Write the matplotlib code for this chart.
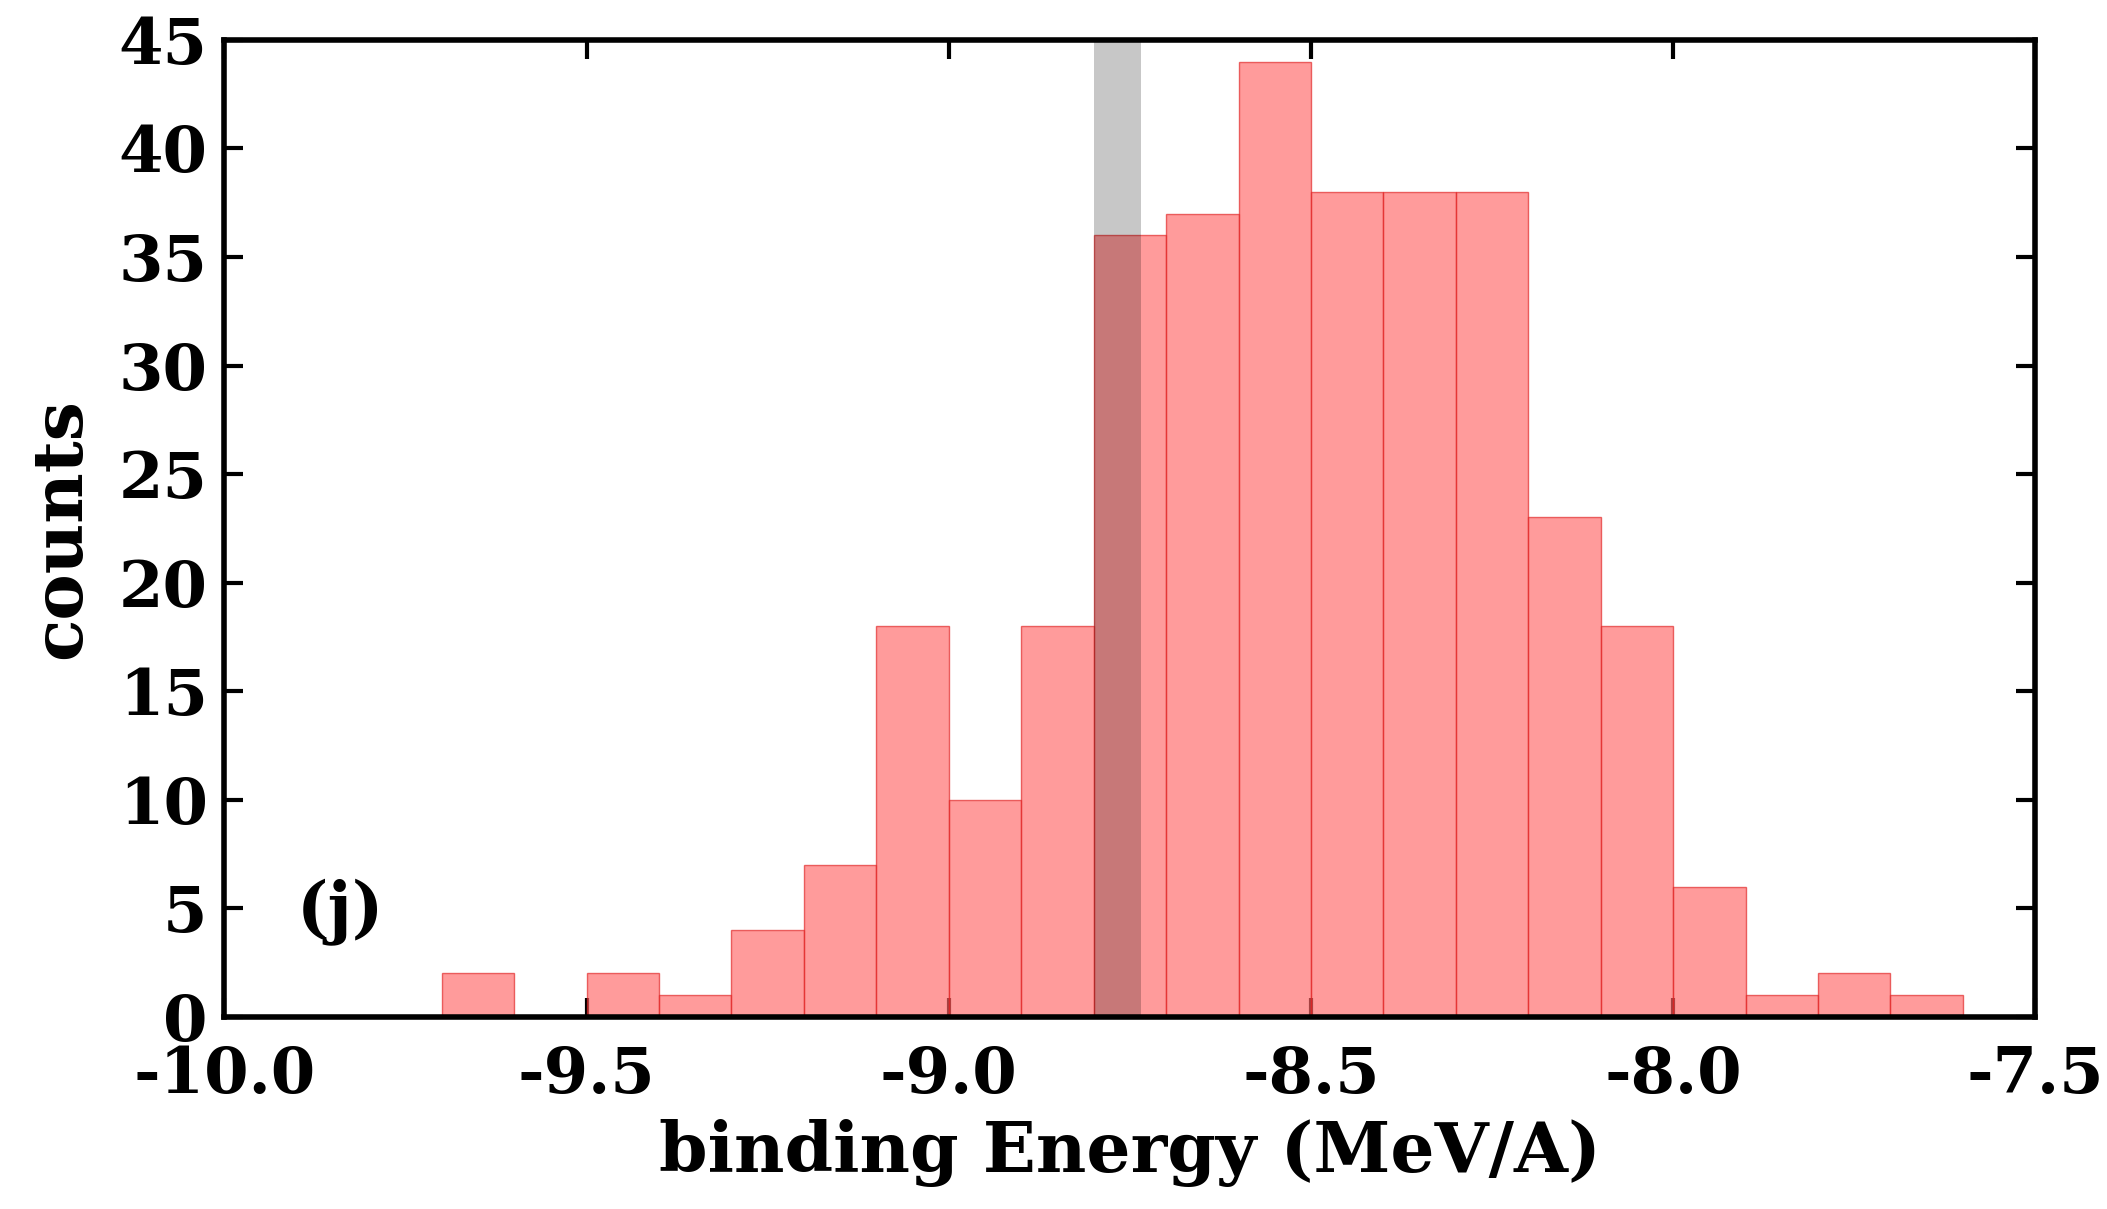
import matplotlib
matplotlib.use("Agg")
import matplotlib.pyplot as plt
import numpy as np

bin_left = [-9.7,-9.6,-9.5,-9.4,-9.3,-9.2,-9.1,-9.0,-8.9,-8.8,-8.7,-8.6,-8.5,-8.4,-8.3,-8.2,-8.1,-8.0,-7.9,-7.8,-7.7]
counts   = [2,0,2,1,4,7,18,10,18,36,37,44,38,38,38,23,18,6,1,2,1]
band = (-8.8, -8.735)
xticks = [-10.0,-9.5,-9.0,-8.5,-8.0,-7.5]
yticks = [0,5,10,15,20,25,30,35,40,45]

plt.rcParams['font.family'] = ['DejaVu Serif']
plt.rcParams['font.weight'] = 'bold'
fig = plt.figure(figsize=(21.07,12.09), dpi=100)
ax = fig.add_axes([0.1065,0.159,0.8595,0.808])
ax.bar(bin_left, counts, width=0.1, align='edge', color='#ff6666', alpha=0.65,
       edgecolor='#e02020', linewidth=1.0, zorder=2)
ax.axvspan(band[0], band[1], color='black', alpha=0.22, zorder=3, lw=0)
ax.set_xlim(-10.0,-7.5)
ax.set_ylim(0,45)
ax.set_xticks(xticks)
ax.set_xticklabels([f"{v:.1f}" for v in xticks])
ax.set_yticks(yticks)
for s in ax.spines.values():
    s.set_linewidth(4)
ax.tick_params(direction='in', length=14, width=3, top=True, right=True, labelsize=46)
ax.tick_params(axis='x', pad=20)
ax.tick_params(axis='y', pad=12)
for l in ax.get_xticklabels()+ax.get_yticklabels():
    l.set_fontweight('bold')
ax.set_xlabel('binding Energy (MeV/A)', fontsize=50, fontweight='bold', labelpad=10)
ax.set_ylabel('counts', fontsize=50, fontweight='bold', labelpad=18)
ax.text(-9.9, 4.0, '(j)', fontsize=48, fontweight='bold')
fig.savefig('out.png', dpi=100)
